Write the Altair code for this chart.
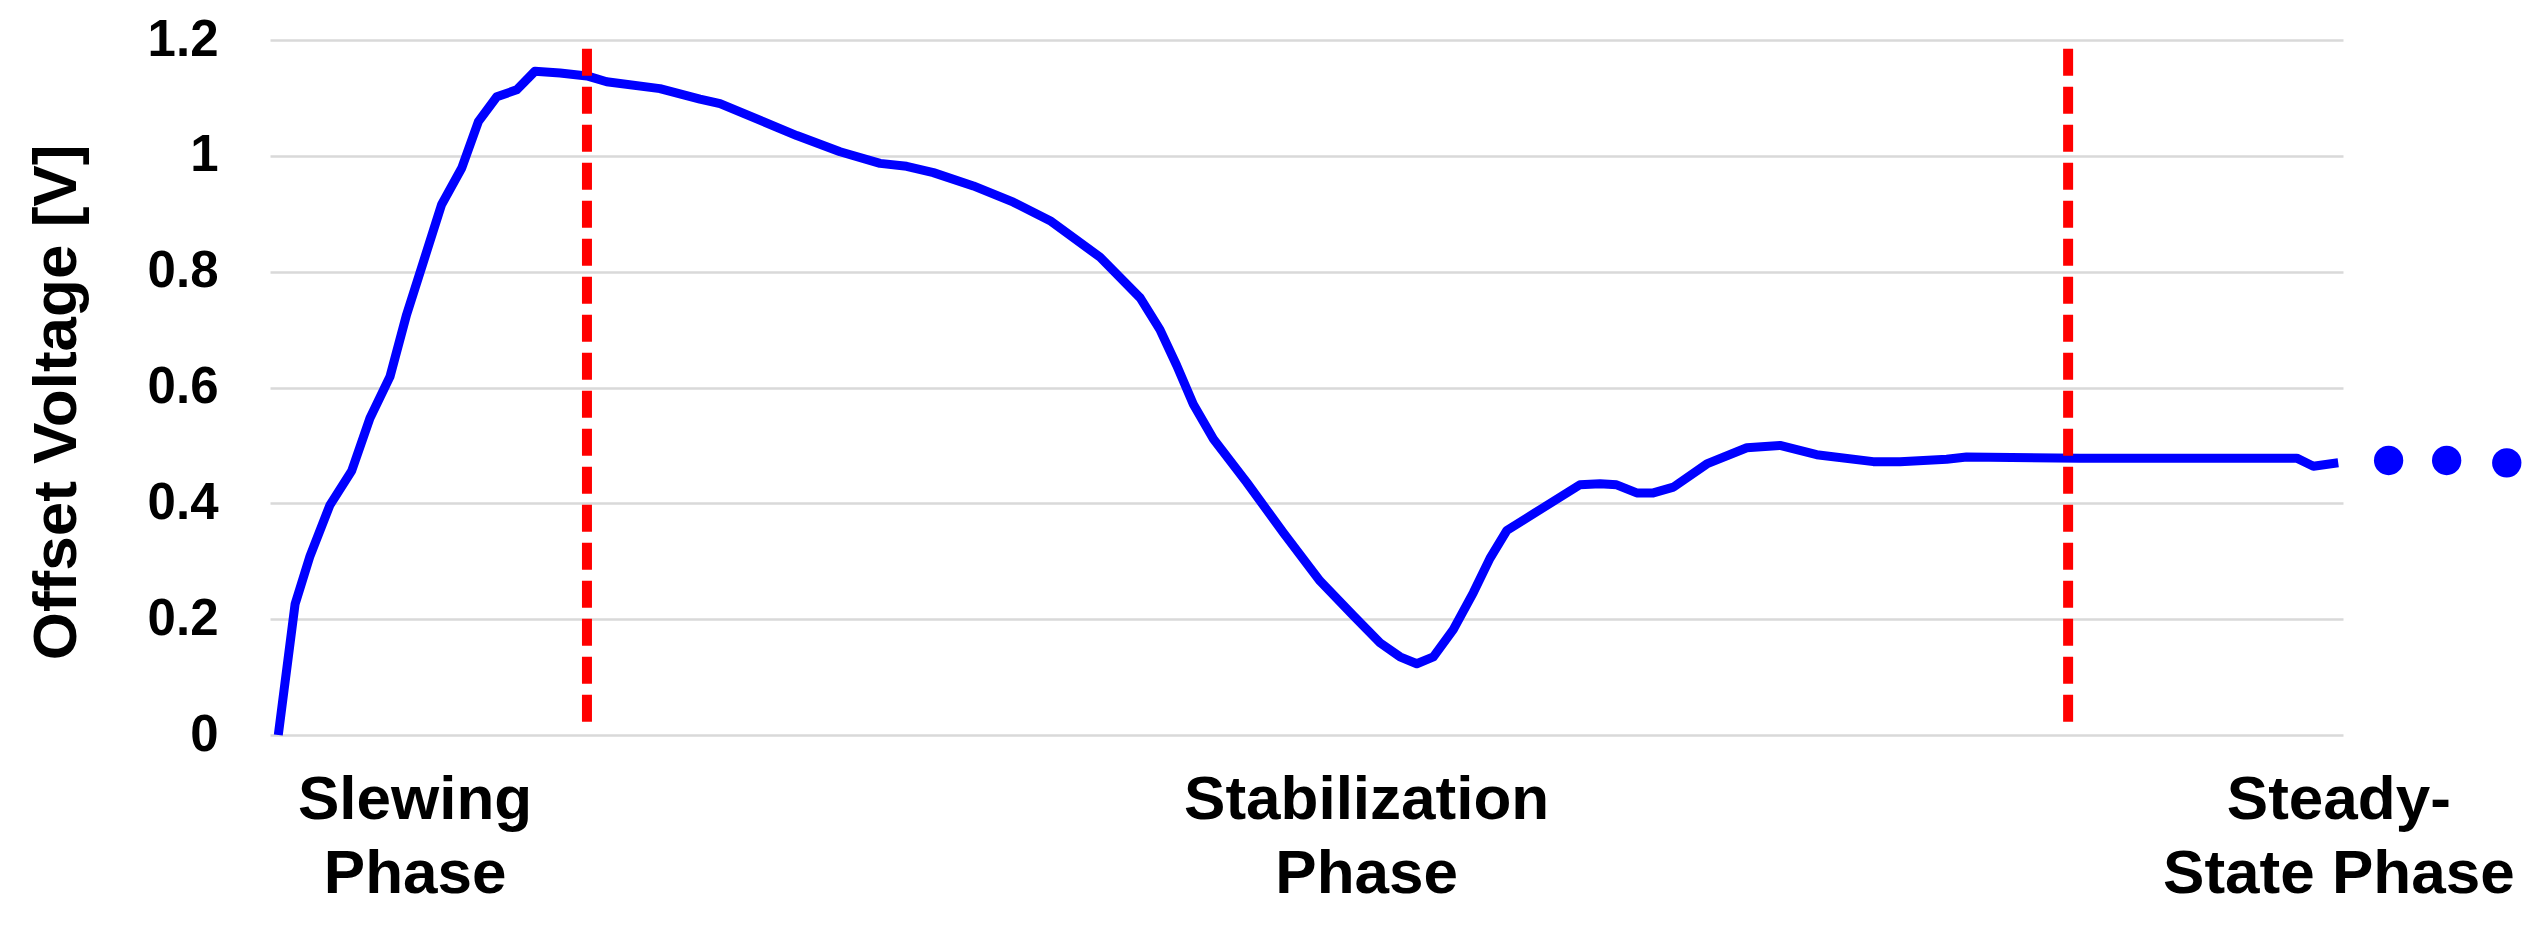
import altair as alt
import pandas as pd

# ---- data (time in arbitrary units 0..100) ----
time = [0.40, 1.21, 1.93, 2.89, 3.94, 4.82, 5.79, 6.59, 7.40, 8.28, 9.25, 10.05,
        10.94, 11.90, 12.78, 13.99, 15.29, 16.24, 18.81, 20.74, 21.71, 23.80,
        25.41, 27.50, 29.43, 30.71, 32.00, 33.93, 35.86, 37.63, 40.04, 41.97,
        42.93, 43.74, 44.54, 45.51, 47.12, 48.89, 50.65, 52.26, 53.55, 54.51,
        55.32, 56.12, 57.08, 58.05, 58.85, 59.66, 61.26, 63.19, 64.16, 64.96,
        65.93, 66.73, 67.70, 69.31, 71.24, 72.84, 74.61, 77.34, 78.63, 80.88,
        81.84, 87.31, 97.77, 98.57, 99.77]
voltage = [0.000, 0.226, 0.309, 0.397, 0.456, 0.547, 0.619, 0.726, 0.817, 0.916,
           0.979, 1.059, 1.102, 1.114, 1.146, 1.143, 1.138, 1.128, 1.116, 1.098,
           1.090, 1.059, 1.035, 1.007, 0.987, 0.982, 0.971, 0.948, 0.920, 0.888,
           0.825, 0.755, 0.700, 0.638, 0.571, 0.511, 0.436, 0.349, 0.266, 0.206,
           0.159, 0.135, 0.123, 0.135, 0.182, 0.246, 0.305, 0.353, 0.389, 0.432,
           0.434, 0.432, 0.418, 0.418, 0.428, 0.468, 0.496, 0.500, 0.484, 0.472,
           0.472, 0.476, 0.480, 0.478, 0.478, 0.464, 0.470]

phase_boundaries = [15.29, 86.74]
boundary_top = [1.185, 1.185]
boundary_bottom = [0.02, 0.02]

continuation_t = [102.2, 105.0, 107.9]
continuation_v = [0.474, 0.474, 0.470]

phase_names = ["Slewing\nPhase", "Stabilization\nPhase", "Steady-\nState Phase"]
phase_label_t = [7.0, 52.9, 99.8]

y_ticks = [0, 0.2, 0.4, 0.6, 0.8, 1.0, 1.2]

# ---- tables ----
curve = pd.DataFrame({"t": time, "v": voltage})
bounds = pd.DataFrame({"t": phase_boundaries, "top": boundary_top, "bottom": boundary_bottom})
dots = pd.DataFrame({"t": continuation_t, "v": continuation_v})
labels = pd.DataFrame({"t": phase_label_t, "name": phase_names})

FONT = "Liberation Sans"

x_scale = alt.Scale(domain=[0, 100], nice=False, zero=False)
y_scale = alt.Scale(domain=[0, 1.2], nice=False)

line = alt.Chart(curve).mark_line(
    color="#0000ff", strokeWidth=9, strokeJoin="round"
).encode(
    x=alt.X("t:Q", scale=x_scale, axis=None),
    y=alt.Y(
        "v:Q",
        scale=y_scale,
        axis=alt.Axis(
            values=y_ticks,
            format="~g",
            title="Offset Voltage [V]",
            titleFont=FONT,
            titleFontSize=62,
            titleFontWeight="bold",
            titleColor="black",
            titleAngle=270,
            titleAlign="center",
            titleBaseline="alphabetic",
            titleX=-195,
            titleY=362,
            labelFont=FONT,
            labelFontSize=51,
            labelFontWeight="bold",
            labelColor="black",
            labelPadding=52,
            ticks=False,
            tickSize=0,
            domain=False,
            grid=True,
            gridColor="#d9d9d9",
            gridWidth=2.5,
        ),
    ),
)

rules = alt.Chart(bounds).mark_rule(
    color="#ff0000", strokeWidth=10, strokeDash=[27, 11]
).encode(
    x=alt.X("t:Q", scale=x_scale),
    y=alt.Y("top:Q", scale=y_scale),
    y2="bottom:Q",
)

points = alt.Chart(dots).mark_circle(
    color="#0000ff", size=860, opacity=1
).encode(
    x=alt.X("t:Q", scale=x_scale),
    y=alt.Y("v:Q", scale=y_scale),
)

texts = alt.Chart(labels).mark_text(
    font=FONT, fontSize=62, fontWeight="bold", color="black",
    align="center", baseline="alphabetic", lineBreak="\n", lineHeight=74,
).encode(
    x=alt.X("t:Q", scale=x_scale),
    y=alt.value(779),
    text="name:N",
)

chart = alt.layer(line, rules, points, texts).properties(
    width=2073,
    height=695,
    autosize=alt.AutoSizeParams(type="none"),
    padding={"left": 262, "top": 32, "right": 190, "bottom": 190},
    background="white",
).configure_view(stroke=None)

chart.save("out.html", embed_options={"renderer": "svg", "actions": False})
